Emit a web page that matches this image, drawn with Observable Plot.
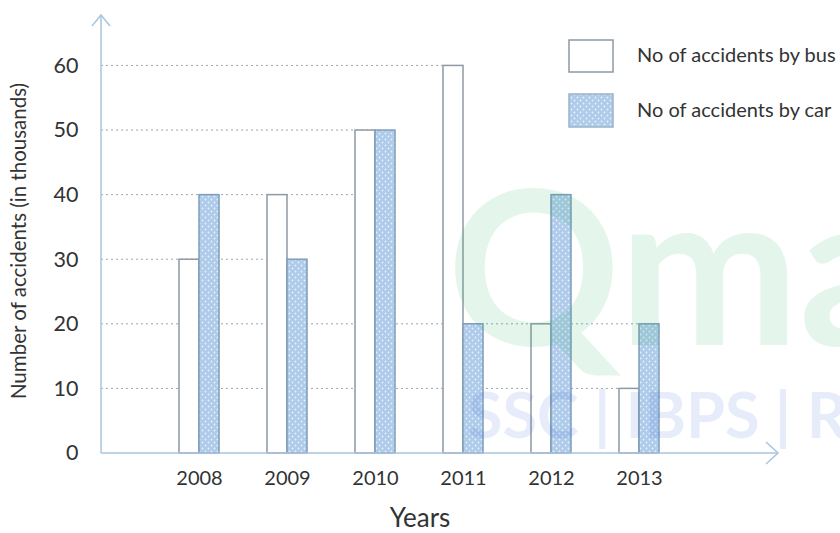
<!DOCTYPE html>
<html><head><meta charset="utf-8">
<script src="https://cdn.jsdelivr.net/npm/d3@7"></script>
<script src="https://cdn.jsdelivr.net/npm/@observablehq/plot@0.6"></script>
<style>
html,body{margin:0;padding:0;background:#fff;}
#chart{width:840px;height:533px;position:relative;}
</style></head><body><div id="chart"></div>
<script>
const years = ["2008","2009","2010","2011","2012","2013"];
const busAccidents = [30,40,50,60,20,10];
const carAccidents = [40,30,50,20,40,20];
const seriesNames = ["No of accidents by bus","No of accidents by car"];
const yTicks = [0,10,20,30,40,50,60];
const gridTicks = [10,20,30,40,50,60];
const gridReach = ["2013","2013","2009","2010","2010","2011"];
const xTitle = "Years";
const yTitle = "Number of accidents (in thousands)";

const busData = years.map((year,i)=>({year, value: busAccidents[i]}));
const carData = years.map((year,i)=>({year, value: carAccidents[i]}));

const FONT = "Lato, 'Open Sans', sans-serif";
const chart = Plot.plot({
  width: 840, height: 533,
  marginLeft: 101, marginRight: 65, marginTop: 17, marginBottom: 80,
  style: {fontFamily: FONT, color: "#333", background: "#fff", overflow: "visible"},
  x: {type: "band", domain: years, paddingInner: 0.545, paddingOuter: 1.1, align: 0.4, label: null},
  y: {domain: [0, 67.5], label: null},
  marks: [
    Plot.barY(busData, {x: "year", y: "value", insetRight: 20, fill: "#ffffff", stroke: "#8f99a3", strokeWidth: 1.5}),
    Plot.barY(carData, {x: "year", y: "value", insetLeft: 20, fill: "url(#dots)", stroke: "#7f9cb8", strokeWidth: 1.5}),
    Plot.axisY({ticks: yTicks, tickSize: 0, tickPadding: 23, fontSize: 21.5, label: null}),
    Plot.axisX({tickSize: 0, tickPadding: 17, fontSize: 20, label: null})
  ]
});
document.getElementById("chart").appendChild(chart);

const svg = d3.select(chart.tagName.toLowerCase() === "svg" ? chart : chart.querySelector("svg"));
const sx = chart.scale("x"), sy = chart.scale("y");
const xs = d3.scaleBand().domain(sx.domain).range(sx.range)
  .paddingInner(sx.paddingInner).paddingOuter(sx.paddingOuter).align(sx.align);
const ys = d3.scaleLinear().domain(sy.domain).range(sy.range);

// pattern
const defs = svg.insert("defs", ":first-child");
const pat = defs.append("pattern").attr("id", "dots").attr("patternUnits", "userSpaceOnUse")
  .attr("width", 6).attr("height", 6);
pat.append("rect").attr("width", 6).attr("height", 6).attr("fill", "#aecbea");
pat.append("circle").attr("cx", 1.5).attr("cy", 1.5).attr("r", 0.9).attr("fill", "#e8f1fb");
pat.append("circle").attr("cx", 4.5).attr("cy", 4.5).attr("r", 0.9).attr("fill", "#e8f1fb");

const x0 = sx.range[0], x1 = sx.range[1];
const y0 = ys(0), yTop = sy.range[1];

// gridlines behind bars
const firstBar = svg.select('g[aria-label="bar"]').node();
const grid = document.createElementNS("http://www.w3.org/2000/svg", "g");
svg.node().insertBefore(grid, firstBar || defs.node().nextSibling);
const gsel = d3.select(grid).attr("stroke", "#9aa6b2").attr("stroke-width", 1).attr("stroke-dasharray", "2,3");
gridTicks.forEach((t, i) => {
  gsel.append("line").attr("x1", x0).attr("x2", xs(gridReach[i]) + xs.bandwidth() / 2)
    .attr("y1", ys(t)).attr("y2", ys(t));
});

// axes with arrows
const ax = svg.append("g").attr("stroke", "#a9c4de").attr("stroke-width", 1.5).attr("fill", "none");
ax.append("line").attr("x1", x0).attr("x2", x0).attr("y1", y0).attr("y2", yTop - 2);
ax.append("path").attr("d", `M${x0-9},${yTop+9}L${x0},${yTop-2}L${x0+9},${yTop+9}`);
ax.append("line").attr("x1", x0).attr("x2", x1 + 3).attr("y1", y0).attr("y2", y0);
ax.append("path").attr("d", `M${x1-9},${y0-11}L${x1+3},${y0}L${x1-9},${y0+11}`);

// axis titles
svg.append("text").attr("transform", `translate(21,${(y0 + yTop)/2 + 6}) rotate(-90)`)
  .attr("text-anchor", "middle").attr("dominant-baseline", "middle")
  .attr("font-size", 20.5).attr("fill", "#333").text(yTitle);
svg.append("text").attr("x", 420).attr("y", 527).attr("text-anchor", "middle")
  .attr("font-size", 26).attr("fill", "#333").text(xTitle);

// legend
const lg = svg.append("g").attr("text-anchor", "start");
lg.append("rect").attr("x", 569).attr("y", 40).attr("width", 44).attr("height", 32)
  .attr("fill", "#fff").attr("stroke", "#8f99a3").attr("stroke-width", 1.5);
lg.append("rect").attr("x", 569).attr("y", 94).attr("width", 44).attr("height", 33)
  .attr("fill", "url(#dots)").attr("stroke", "#9ab4cc").attr("stroke-width", 1.5);
lg.append("text").attr("x", 637).attr("y", 57).attr("dominant-baseline", "middle")
  .attr("font-size", 20).attr("fill", "#333").text(seriesNames[0]);
lg.append("text").attr("x", 637).attr("y", 112).attr("dominant-baseline", "middle")
  .attr("font-size", 20).attr("fill", "#333").text(seriesNames[1]);

// watermark
const wm = svg.append("g").attr("text-anchor", "start").attr("font-weight", 700);
wm.append("text").attr("x", 447).attr("y", 345).attr("font-size", 215)
  .attr("fill", "#2fb463").attr("fill-opacity", 0.13).text("Qma");
wm.append("text").attr("x", 468).attr("y", 438).attr("font-size", 63)
  .attr("fill", "#3a6fd6").attr("fill-opacity", 0.13).text("SSC | IBPS | R");
</script>
</body></html>
